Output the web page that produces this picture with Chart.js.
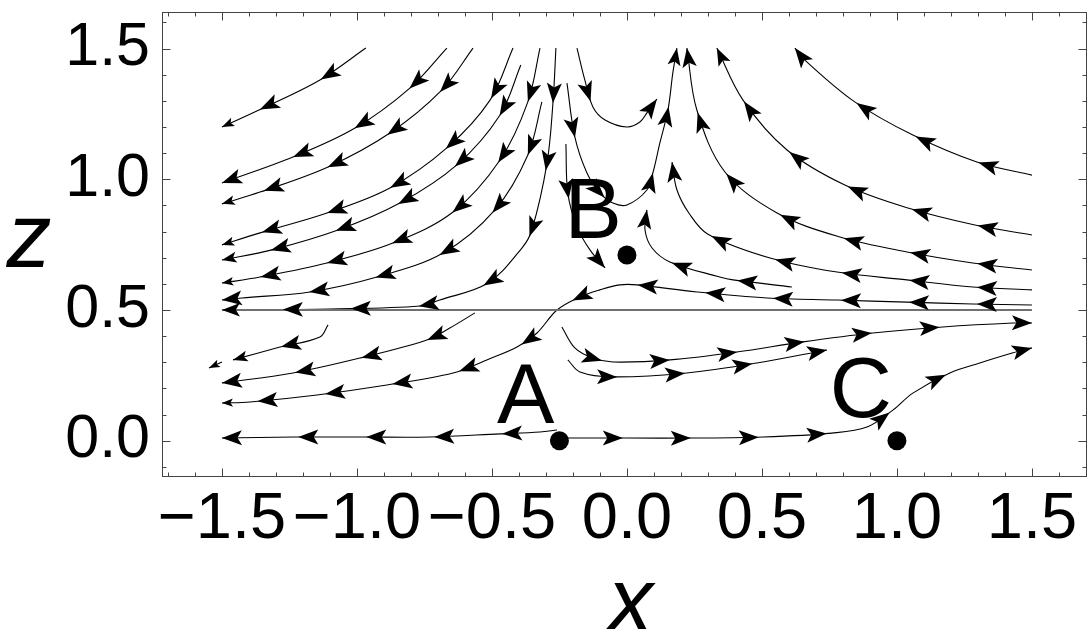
<!DOCTYPE html>
<html>
<head>
<meta charset="utf-8">
<script src="https://cdn.jsdelivr.net/npm/chart.js@4.4.1/dist/chart.umd.min.js"></script>
<style>
  body { margin: 0; background: #fff; }
  canvas { display: block; }
</style>
</head>
<body>
<canvas id="flow" width="1089" height="629"></canvas>
<script>
// tick labels
const xTicks = [-1.5, -1.0, -0.5, 0.0, 0.5, 1.0, 1.5];
const zTicks = [0.0, 0.5, 1.0, 1.5];

// fixed points
const pointNames = ['A', 'B', 'C'];
const pointX = [-0.25, 0.0, 1.0];
const pointZ = [0.0, 0.71, 0.0];

// streamlines, each one listed in the direction of the flow, [x, z]
const upLeft1 = [[-0.967,1.502],[-1.137,1.380],[-1.363,1.265],[-1.5,1.200]];
const upLeft2 = [[-0.667,1.502],[-0.804,1.349],[-1.007,1.196],[-1.237,1.085],[-1.5,0.986]];
const upLeft3 = [[-0.570,1.502],[-0.685,1.342],[-0.878,1.177],[-1.107,1.047],[-1.359,0.951],[-1.5,0.906]];
const upLeft4 = [[-0.422,1.502],[-0.507,1.303],[-0.667,1.120],[-0.878,0.967],[-1.111,0.871],[-1.359,0.795],[-1.5,0.749]];
const upLeft5 = [[-0.393,1.437],[-0.470,1.246],[-0.630,1.055],[-0.841,0.909],[-1.070,0.806],[-1.315,0.730],[-1.5,0.691]];
const upLeft6 = [[-0.322,1.502],[-0.367,1.296],[-0.470,1.074],[-0.644,0.875],[-0.867,0.756],[-1.111,0.680],[-1.359,0.626],[-1.5,0.603]];
const upLeft7 = [[-0.315,1.296],[-0.367,1.093],[-0.489,0.883],[-0.681,0.718],[-0.926,0.626],[-1.174,0.569],[-1.426,0.546],[-1.5,0.538]];
const upLeft8 = [[-0.263,1.502],[-0.274,1.292],[-0.296,1.062],[-0.352,0.806],[-0.389,0.737],[-0.515,0.603],[-0.693,0.538],[-0.767,0.515],[-1.100,0.504],[-1.5,0.500]];
const dipB = [[-0.222,1.368],[-0.193,1.162],[-0.148,1.024],[-0.100,0.948],[-0.052,0.909],[0.0,0.902],[0.074,0.959],[0.096,1.024],[0.122,1.139],[0.152,1.265],[0.170,1.407],[0.185,1.502]];
const downB = [[-0.226,1.135],[-0.219,0.948],[-0.185,0.818],[-0.137,0.730],[-0.081,0.661]];
const dipTop = [[-0.185,1.502],[-0.156,1.380],[-0.126,1.277],[-0.081,1.227],[0.0,1.200],[0.048,1.219],[0.074,1.254],[0.111,1.307]];
const upRight1 = [[1.5,0.653],[1.281,0.680],[1.037,0.722],[0.789,0.779],[0.556,0.871],[0.363,1.028],[0.259,1.265],[0.222,1.502]];
const upRight2 = [[1.5,0.787],[1.289,0.825],[1.041,0.890],[0.807,0.978],[0.593,1.112],[0.430,1.303],[0.333,1.502]];
const upRight3 = [[1.5,1.016],[1.296,1.066],[1.059,1.169],[0.844,1.296],[0.659,1.456],[0.622,1.502]];
const hookB1 = [[1.5,0.577],[1.281,0.588],[1.037,0.615],[0.778,0.645],[0.530,0.699],[0.300,0.790],[0.230,0.870],[0.185,0.960],[0.167,1.066]];
const hookB2 = [[0.611,0.588],[0.393,0.615],[0.344,0.626],[0.159,0.684],[0.093,0.737],[0.067,0.806],[0.074,0.883]];
const crossing = [[1.5,0.519],[1.281,0.523],[1.037,0.530],[0.778,0.538],[0.519,0.546],[0.259,0.569],[0.037,0.596],[-0.026,0.596],[-0.100,0.577],[-0.174,0.550],[-0.259,0.500],[-0.333,0.412],[-0.407,0.358],[-0.519,0.309],[-0.644,0.259],[-0.889,0.213],[-1.148,0.175],[-1.396,0.148],[-1.5,0.144]];
const lowLeft1 = [[-0.563,0.489],[-0.656,0.431],[-0.741,0.385],[-0.989,0.316],[-1.237,0.259],[-1.5,0.221]];
const lowLeft2 = [[-1.107,0.443],[-1.137,0.397],[-1.285,0.358],[-1.459,0.309]];
const lowLeft3 = [[-1.5,0.301],[-1.548,0.278]];
const axisLeft = [[-0.259,0.041],[-0.322,0.033],[-0.470,0.026],[-0.730,0.014],[-0.978,0.014],[-1.230,0.014],[-1.5,0.010]];
const axisRight = [[-0.219,0.010],[0.0,0.010],[0.252,0.010],[0.504,0.014],[0.759,0.029],[0.889,0.052],[0.985,0.117],[1.059,0.182],[1.196,0.259],[1.307,0.297],[1.430,0.336],[1.5,0.355]];
const lowRight1 = [[-0.241,0.435],[-0.193,0.355],[-0.126,0.316],[-0.052,0.301],[0.159,0.309],[0.407,0.339],[0.652,0.378],[0.911,0.412],[1.170,0.435],[1.430,0.450],[1.5,0.450]];
const lowRight2 = [[-0.219,0.309],[-0.174,0.263],[-0.052,0.244],[0.222,0.259],[0.481,0.297],[0.741,0.347]];
const separatrix = [[-1.5,0.5],[1.5,0.5]];

const streamlines = [upLeft1, upLeft2, upLeft3, upLeft4, upLeft5, upLeft6, upLeft7, upLeft8,
  dipB, downB, dipTop, upRight1, upRight2, upRight3, hookB1, hookB2, crossing,
  lowLeft1, lowLeft2, lowLeft3, axisLeft, axisRight, lowRight1, lowRight2];

const FONT = "'Liberation Sans', Arial, sans-serif";

function fmt(v) {
  return (v < 0 ? '\u2212' : '') + Math.abs(v).toFixed(1);
}

const datasets = [];
datasets.push({
  data: separatrix.map(p => ({x: p[0], y: p[1]})),
  showLine: true, pointRadius: 0, borderColor: '#707070', borderWidth: 1.8, tension: 0
});
streamlines.forEach(line => {
  datasets.push({
    data: line.map(p => ({x: p[0], y: p[1]})),
    showLine: true, pointRadius: 0, borderColor: '#000', borderWidth: 1.1,
    tension: 0.35, arrows: true
  });
});
datasets.push({
  data: pointX.map((x, i) => ({x: x, y: pointZ[i]})),
  showLine: false, pointRadius: 9.5, pointBackgroundColor: '#000', pointBorderWidth: 0
});

// sample the drawn (bezier) path of a dataset in pixels
function samplePath(meta) {
  const pts = meta.data;
  const out = [];
  for (let i = 0; i < pts.length - 1; i++) {
    const a = pts[i], b = pts[i + 1];
    const c1x = a.cp2x !== undefined ? a.cp2x : a.x;
    const c1y = a.cp2y !== undefined ? a.cp2y : a.y;
    const c2x = b.cp1x !== undefined ? b.cp1x : b.x;
    const c2y = b.cp1y !== undefined ? b.cp1y : b.y;
    for (let k = 0; k < 16; k++) {
      const t = k / 16, u = 1 - t;
      out.push([
        u*u*u*a.x + 3*u*u*t*c1x + 3*u*t*t*c2x + t*t*t*b.x,
        u*u*u*a.y + 3*u*u*t*c1y + 3*u*t*t*c2y + t*t*t*b.y
      ]);
    }
  }
  const last = pts[pts.length - 1];
  out.push([last.x, last.y]);
  return out;
}

function pointAt(path, cum, s) {
  for (let i = 1; i < path.length; i++) {
    if (cum[i] >= s) {
      const seg = cum[i] - cum[i - 1] || 1;
      const t = (s - cum[i - 1]) / seg;
      return [path[i-1][0] + (path[i][0] - path[i-1][0]) * t,
              path[i-1][1] + (path[i][1] - path[i-1][1]) * t];
    }
  }
  return path[path.length - 1];
}

function arrowHead(ctx, path, cum, s, k) {
  const tip = pointAt(path, cum, s);
  const back = pointAt(path, cum, Math.max(0, s - 8));
  let ux = tip[0] - back[0], uy = tip[1] - back[1];
  const n = Math.hypot(ux, uy) || 1;
  ux /= n; uy /= n;
  const len = 20 * k, w = 7.5 * k, notch = 4.5 * k;
  ctx.beginPath();
  ctx.moveTo(tip[0], tip[1]);
  ctx.lineTo(tip[0] - ux*len - uy*w, tip[1] - uy*len + ux*w);
  ctx.lineTo(tip[0] - ux*(len - notch), tip[1] - uy*(len - notch));
  ctx.lineTo(tip[0] - ux*len + uy*w, tip[1] - uy*len - ux*w);
  ctx.closePath();
  ctx.fill();
}

const flowDecor = {
  id: 'flowDecor',
  afterDatasetsDraw(chart) {
    const ctx = chart.ctx;
    const xs = chart.scales.x, ys = chart.scales.y;
    const area = chart.chartArea;

    // arrowheads along each streamline
    ctx.save();
    ctx.fillStyle = '#000';
    chart.data.datasets.forEach((ds, i) => {
      if (!ds.arrows) return;
      const path = samplePath(chart.getDatasetMeta(i));
      const cum = [0];
      for (let j = 1; j < path.length; j++) {
        cum.push(cum[j-1] + Math.hypot(path[j][0] - path[j-1][0], path[j][1] - path[j-1][1]));
      }
      const total = cum[cum.length - 1];
      let s = 55, lastS = 0;
      while (s < total - 30) {
        arrowHead(ctx, path, cum, s, 1);
        lastS = s;
        s += 68;
      }
      const k = Math.max(0.55, Math.min(1, (total - lastS) / 68));
      arrowHead(ctx, path, cum, total, k);
    });
    ctx.restore();

    // frame with inward ticks on all four sides
    ctx.save();
    ctx.strokeStyle = '#444';
    ctx.lineWidth = 1;
    const L = Math.round(area.left) + 0.5, R = Math.round(area.right) - 0.5;
    const T = Math.round(area.top) + 0.5, B = Math.round(area.bottom) - 0.5;
    ctx.strokeRect(L, T, R - L, B - T);
    ctx.beginPath();
    for (let i = -17; i <= 17; i++) {
      const v = i / 10;
      const px = Math.round(xs.getPixelForValue(v)) + 0.5;
      const len = (i % 5 === 0) ? 8 : 4;
      ctx.moveTo(px, B); ctx.lineTo(px, B - len);
      ctx.moveTo(px, T); ctx.lineTo(px, T + len);
    }
    for (let i = -1; i <= 16; i++) {
      const v = i / 10;
      const py = Math.round(ys.getPixelForValue(v)) + 0.5;
      const len = (i % 5 === 0) ? 8 : 4;
      ctx.moveTo(L, py); ctx.lineTo(L + len, py);
      ctx.moveTo(R, py); ctx.lineTo(R - len, py);
    }
    ctx.stroke();
    ctx.restore();

    // fixed point labels
    ctx.save();
    ctx.fillStyle = '#000';
    ctx.font = '86px ' + FONT;
    ctx.textAlign = 'right';
    ctx.textBaseline = 'alphabetic';
    const lift = [18, 17, 24];
    pointNames.forEach((name, i) => {
      const px = xs.getPixelForValue(pointX[i]);
      const py = ys.getPixelForValue(pointZ[i]);
      ctx.fillText(name, px - 5, py - lift[i]);
    });

    // axis titles
    ctx.font = 'italic 90px ' + FONT;
    ctx.textAlign = 'center';
    ctx.fillText('x', (area.left + area.right) / 2 + 6, 631);
    ctx.fillText('z', 29, 267);
    ctx.restore();
  }
};

new Chart(document.getElementById('flow'), {
  type: 'scatter',
  data: { datasets: datasets },
  plugins: [flowDecor],
  options: {
    responsive: false,
    animation: false,
    layout: { autoPadding: false, padding: { top: 12, right: 2, left: 0, bottom: 0 } },
    plugins: { legend: { display: false }, tooltip: { enabled: false } },
    scales: {
      x: {
        type: 'linear', min: -1.722, max: 1.704,
        grid: { display: false, drawTicks: false },
        border: { display: false },
        afterBuildTicks: s => { s.ticks = xTicks.map(v => ({ value: v })); },
        afterFit: s => { s.height = 152; s.paddingLeft = 0; s.paddingRight = 0; },
        ticks: {
          autoSkip: false, maxRotation: 0, minRotation: 0, padding: 4,
          color: '#000', font: { family: FONT, size: 65 },
          callback: v => fmt(v)
        }
      },
      y: {
        type: 'linear', min: -0.139, max: 1.640,
        grid: { display: false, drawTicks: false },
        border: { display: false },
        afterBuildTicks: s => { s.ticks = zTicks.map(v => ({ value: v })); },
        afterFit: s => { s.width = 162; s.paddingTop = 0; s.paddingBottom = 0; },
        ticks: {
          autoSkip: false, padding: 12,
          color: '#000', font: { family: FONT, size: 61 },
          callback: v => fmt(v)
        }
      }
    }
  }
});
</script>
</body>
</html>
